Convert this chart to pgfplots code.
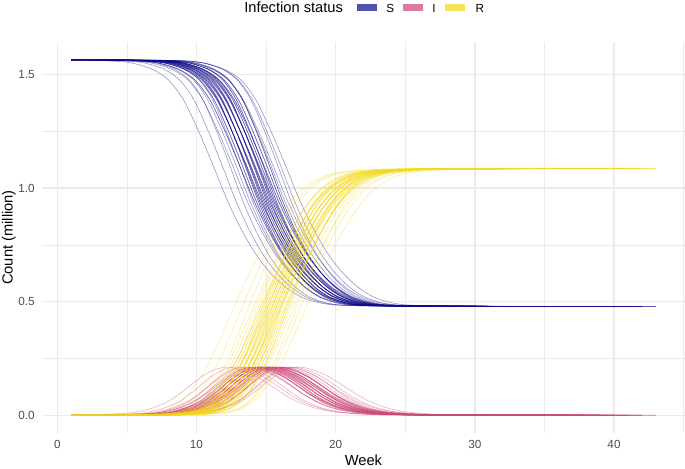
\documentclass[border=0pt]{standalone}
\usepackage{fontspec}
\setmainfont{Liberation Sans}
\usepackage{pgfplots}
\usepackage{pgfplotstable}
\pgfplotsset{compat=1.18}
\definecolor{Scol}{RGB}{13,8,135}
\definecolor{Icol}{RGB}{204,70,120}
\definecolor{Rcol}{RGB}{245,216,22}
\definecolor{Skey}{RGB}{85,82,171}
\definecolor{Ikey}{RGB}{218,123,163}
\definecolor{Rkey}{RGB}{248,228,92}
\definecolor{grid92}{RGB}{235,235,235}
\definecolor{tick30}{RGB}{77,77,77}

\pgfplotstableread{
S I R x1 x2 x3 x4 x5 x6 x7 x8 x9 x10 x11 x12 x13 x14 x15 x16 x17 x18 x19 x20 x21 x22 x23 x24 x25 x26 x27 x28 x29 x30
1.566 0.000 0.000 1 1 1 1 1 1 1 1 1 1 1 1 1 1 1 1 1 1 1 1 1 1 1 1 1 1 1 1 1 1
1.563 0.002 0.001 2.75 3.8 4.75 4.15 4.8 5.45 4.65 5.25 5.85 5.5 5.15 6.15 5.8 5.45 6.45 6.1 5.75 6.75 6.4 6.05 6.6 7.15 6.4 7.0 7.6 7.3 7.05 8.2 8.0 7.95
1.556 0.008 0.002 4.85 5.8 6.65 6.25 6.8 7.35 6.75 7.25 7.75 7.5 7.25 8.05 7.8 7.55 8.35 8.1 7.85 8.65 8.4 8.15 8.6 9.05 8.5 9.0 9.5 9.3 9.15 10.1 10.0 10.05
1.543 0.017 0.006 5.9 6.8 7.6 7.3 7.8 8.3 7.8 8.25 8.7 8.5 8.3 9.0 8.8 8.6 9.3 9.1 8.9 9.6 9.4 9.2 9.6 10.0 9.55 10.0 10.45 10.3 10.2 11.05 11.0 11.1
1.520 0.034 0.012 6.95 7.8 8.55 8.35 8.8 9.25 8.85 9.25 9.65 9.5 9.35 9.95 9.8 9.65 10.25 10.1 9.95 10.55 10.4 10.25 10.6 10.95 10.6 11.0 11.4 11.3 11.25 12.0 12.0 12.15
1.476 0.062 0.028 8.0 8.8 9.5 9.4 9.8 10.2 9.9 10.25 10.6 10.5 10.4 10.9 10.8 10.7 11.2 11.1 11.0 11.5 11.4 11.3 11.6 11.9 11.65 12.0 12.35 12.3 12.3 12.95 13.0 13.2
1.391 0.106 0.069 9.05 9.8 10.45 10.45 10.8 11.15 10.95 11.25 11.55 11.5 11.45 11.85 11.8 11.75 12.15 12.1 12.05 12.45 12.4 12.35 12.6 12.85 12.7 13.0 13.3 13.3 13.35 13.9 14.0 14.25
1.258 0.158 0.150 10.1 10.8 11.4 11.5 11.8 12.1 12.0 12.25 12.5 12.5 12.5 12.8 12.8 12.8 13.1 13.1 13.1 13.4 13.4 13.4 13.6 13.8 13.75 14.0 14.25 14.3 14.4 14.85 15.0 15.3
1.107 0.197 0.262 11.15 11.8 12.35 12.55 12.8 13.05 13.05 13.25 13.45 13.5 13.55 13.75 13.8 13.85 14.05 14.1 14.15 14.35 14.4 14.45 14.6 14.75 14.8 15.0 15.2 15.3 15.45 15.8 16.0 16.35
0.949 0.212 0.405 12.2 12.8 13.3 13.6 13.8 14.0 14.1 14.25 14.4 14.5 14.6 14.7 14.8 14.9 15.0 15.1 15.2 15.3 15.4 15.5 15.6 15.7 15.85 16.0 16.15 16.3 16.5 16.75 17.0 17.4
0.815 0.198 0.553 13.25 13.8 14.25 14.65 14.8 14.95 15.15 15.25 15.35 15.5 15.65 15.65 15.8 15.95 15.95 16.1 16.25 16.25 16.4 16.55 16.6 16.65 16.9 17.0 17.1 17.3 17.55 17.7 18.0 18.45
0.706 0.170 0.690 14.3 14.8 15.2 15.7 15.8 15.9 16.2 16.25 16.3 16.5 16.7 16.6 16.8 17.0 16.9 17.1 17.3 17.2 17.4 17.6 17.6 17.6 17.95 18.0 18.05 18.3 18.6 18.65 19.0 19.5
0.624 0.130 0.812 15.35 15.8 16.15 16.75 16.8 16.85 17.25 17.25 17.25 17.5 17.75 17.55 17.8 18.05 17.85 18.1 18.35 18.15 18.4 18.65 18.6 18.55 19.0 19.0 19.0 19.3 19.65 19.6 20.0 20.55
0.564 0.088 0.914 16.4 16.8 17.1 17.8 17.8 17.8 18.3 18.25 18.2 18.5 18.8 18.5 18.8 19.1 18.8 19.1 19.4 19.1 19.4 19.7 19.6 19.5 20.05 20.0 19.95 20.3 20.7 20.55 21.0 21.6
0.523 0.055 0.988 17.45 17.8 18.05 18.85 18.8 18.75 19.35 19.25 19.15 19.5 19.85 19.45 19.8 20.15 19.75 20.1 20.45 20.05 20.4 20.75 20.6 20.45 21.1 21.0 20.9 21.3 21.75 21.5 22.0 22.65
0.500 0.032 1.034 18.5 18.8 19.0 19.9 19.8 19.7 20.4 20.25 20.1 20.5 20.9 20.4 20.8 21.2 20.7 21.1 21.5 21.0 21.4 21.8 21.6 21.4 22.15 22.0 21.85 22.3 22.8 22.45 23.0 23.7
0.488 0.018 1.060 19.55 19.8 19.95 20.95 20.8 20.65 21.45 21.25 21.05 21.5 21.95 21.35 21.8 22.25 21.65 22.1 22.55 21.95 22.4 22.85 22.6 22.35 23.2 23.0 22.8 23.3 23.85 23.4 24.0 24.75
0.484 0.010 1.072 20.6 20.8 20.9 22.0 21.8 21.6 22.5 22.25 22.0 22.5 23.0 22.3 22.8 23.3 22.6 23.1 23.6 22.9 23.4 23.9 23.6 23.3 24.25 24.0 23.75 24.3 24.9 24.35 25.0 25.8
0.481 0.003 1.082 22.7 22.8 22.8 24.1 23.8 23.5 24.6 24.25 23.9 24.5 25.1 24.2 24.8 25.4 24.5 25.1 25.7 24.8 25.4 26.0 25.6 25.2 26.35 26.0 25.65 26.3 27.0 26.25 27.0 27.9
0.480 0.001 1.085 25.85 25.8 25.65 27.25 26.8 26.35 27.75 27.25 26.75 27.5 28.25 27.05 27.8 28.55 27.35 28.1 28.85 27.65 28.4 29.15 28.6 28.05 29.5 29.0 28.5 29.3 30.15 29.1 30.0 31.05
0.479 0.000 1.087 37 39 38 40 37 39 42 38 39 37 40 39 38 43 37 39 40 38 41 39 37 40 38 42 39 37 40 41 38 39
}\curves

\pgfplotsset{
  Sst/.style={draw=Scol, draw opacity=0.42, line width=0.45pt, smooth, mark=none},
  Ist/.style={draw=Icol, draw opacity=0.42, line width=0.45pt, smooth, mark=none},
  Rst/.style={draw=Rcol, draw opacity=0.42, line width=0.45pt, smooth, mark=none},
}

\begin{document}
\begin{tikzpicture}
\path[use as bounding box] (-31.5pt,-26.25pt) rectangle (482.25pt,324.75pt);
\begin{axis}[
  at={(0pt,0pt)}, anchor=south west,
  scale only axis, width=482.25pt, height=293.25pt,
  xmin=-1.1, xmax=45.1, ymin=-0.0783, ymax=1.644,
  xtick={0,10,20,30,40}, xticklabels={0,10,20,30,40},
  ytick={0,0.5,1,1.5}, yticklabels={0.0,0.5,1.0,1.5},
  minor xtick={5,15,25,35,45}, minor ytick={0.25,0.75,1.25},
  grid=both,
  major grid style={draw=grid92, line width=1.07pt},
  minor grid style={draw=grid92, line width=0.53pt},
  axis line style={draw=none},
  major tick length=0pt, minor tick length=0pt,
  tick label style={font=\fontsize{8.8}{10}\selectfont, text=tick30},
  xticklabel style={inner sep=0pt, anchor=north, yshift=-5.6pt},
  yticklabel style={inner sep=0pt, anchor=east, xshift=-5.25pt},
  /pgf/number format/assume math mode=true,
]
\pgfplotsinvokeforeach{1,...,30}{\addplot[Sst] table[x=x#1, y=S] {\curves};}
\pgfplotsinvokeforeach{7,...,25}{\addplot[Sst] table[x=x#1, y=S] {\curves};}
\pgfplotsinvokeforeach{1,...,30}{\addplot[Ist] table[x=x#1, y=I] {\curves};}
\pgfplotsinvokeforeach{7,...,25}{\addplot[Ist] table[x=x#1, y=I] {\curves};}
\pgfplotsinvokeforeach{1,...,30}{\addplot[Rst] table[x=x#1, y=R] {\curves};}
\pgfplotsinvokeforeach{7,...,25}{\addplot[Rst] table[x=x#1, y=R] {\curves};}
\end{axis}
\node[font=\fontsize{11}{13}\selectfont, anchor=base, inner sep=0pt] at (241.1pt,-24.5pt) {Week};
\node[font=\fontsize{11}{13}\selectfont, rotate=90, anchor=base, inner sep=0pt] at (-22.1pt,146.6pt) {Count (million)};
\node[font=\fontsize{11}{13}\selectfont, anchor=base west, inner sep=0pt] at (151.5pt,315.2pt) {Infection status};
\fill[Skey] (236pt,316.5pt) rectangle (251pt,321.75pt);
\node[font=\fontsize{8.8}{10}\selectfont, anchor=base west, inner sep=0pt] at (258pt,315.4pt) {S};
\fill[Ikey] (270.5pt,316.5pt) rectangle (285.5pt,321.75pt);
\node[font=\fontsize{8.8}{10}\selectfont, anchor=base west, inner sep=0pt] at (292.5pt,315.4pt) {I};
\fill[Rkey] (302.5pt,316.5pt) rectangle (317.5pt,321.75pt);
\node[font=\fontsize{8.8}{10}\selectfont, anchor=base west, inner sep=0pt] at (325pt,315.4pt) {R};
\end{tikzpicture}
\end{document}
